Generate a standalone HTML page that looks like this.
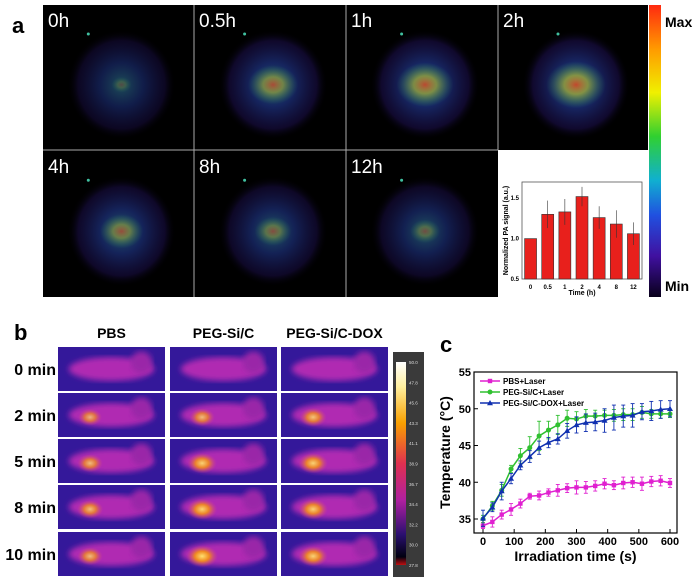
<!DOCTYPE html>
<html><head><meta charset="utf-8"><style>
html,body{margin:0;padding:0;background:#fff;}
svg{display:block;font-family:"Liberation Sans",Arial,sans-serif;}
</style></head><body>
<svg id="fig" width="694" height="581" viewBox="0 0 694 581" xmlns="http://www.w3.org/2000/svg">
<defs>
<radialGradient id="pa" cx="50%" cy="50%" r="50%">
<stop offset="0" stop-color="#3a9ab0" stop-opacity="0.75"/>
<stop offset="0.4" stop-color="#2a48b8" stop-opacity="0.6"/>
<stop offset="0.8" stop-color="#281670" stop-opacity="0.45"/>
<stop offset="1" stop-color="#000" stop-opacity="0"/>
</radialGradient>
<radialGradient id="hot" cx="50%" cy="50%" r="50%">
<stop offset="0" stop-color="#ff3a10" stop-opacity="0.8"/>
<stop offset="0.4" stop-color="#d8d020" stop-opacity="0.6"/>
<stop offset="1" stop-color="#30c060" stop-opacity="0"/>
</radialGradient>
<radialGradient id="spot" cx="50%" cy="50%" r="50%">
<stop offset="0" stop-color="#ffe070"/>
<stop offset="0.45" stop-color="#f08a20"/>
<stop offset="1" stop-color="#d04090" stop-opacity="0"/>
</radialGradient>
<linearGradient id="cbar" x1="0" y1="0" x2="0" y2="1">
<stop offset="0" stop-color="#ff2a10"/><stop offset="0.15" stop-color="#ff9a00"/>
<stop offset="0.3" stop-color="#f0f000"/><stop offset="0.45" stop-color="#30d030"/>
<stop offset="0.6" stop-color="#10b0d0"/><stop offset="0.72" stop-color="#2050e0"/>
<stop offset="0.86" stop-color="#4010a0"/><stop offset="1" stop-color="#08001a"/>
</linearGradient>
<linearGradient id="tbar" x1="0" y1="0" x2="0" y2="1">
<stop offset="0" stop-color="#ffffff"/><stop offset="0.12" stop-color="#fff0a0"/>
<stop offset="0.3" stop-color="#f8a000"/><stop offset="0.5" stop-color="#e03050"/>
<stop offset="0.68" stop-color="#b020a0"/><stop offset="0.85" stop-color="#2a1070"/>
<stop offset="0.96" stop-color="#000010"/><stop offset="1" stop-color="#c01010"/>
</linearGradient>
<filter id="blur"><feGaussianBlur stdDeviation="3"/></filter>
</defs>

<text x="12" y="33" font-size="22" font-weight="bold">a</text>
<rect x="43" y="5" width="605" height="292" fill="#000"/>
<g id="paTiles"></g>
<rect x="498" y="150" width="150" height="147" fill="#fff"/>
<g id="bars"></g>
<rect x="649" y="5" width="12" height="292" fill="url(#cbar)"/>
<text x="665" y="27" font-size="14" font-weight="bold">Max</text>
<text x="665" y="291" font-size="14" font-weight="bold">Min</text>

<text x="14" y="340" font-size="22" font-weight="bold">b</text>
<g id="thermal"></g>
<rect x="393" y="352" width="31" height="225" fill="#3a3a3a"/>
<rect x="396" y="362" width="10" height="203" fill="url(#tbar)"/>
<g id="tlabels" font-size="4.5" fill="#ddd"></g>

<text x="440" y="352" font-size="22" font-weight="bold">c</text>
<g id="linechart"></g>
</svg>
<script>
const barCats = ["0","0.5","1","2","4","8","12"];
const barVals = [1.0,1.30,1.33,1.52,1.26,1.18,1.06];
const barErr = [0.0,0.17,0.16,0.12,0.14,0.17,0.14];
const barTicks = [0.5,1.0,1.5];
const timeS = [0,30,60,90,120,150,180,210,240,270,300,330,360,390,420,450,480,510,540,570,600];
const pbsT = [34.1,34.6,35.6,36.3,37.1,38.1,38.2,38.6,38.9,39.2,39.3,39.3,39.5,39.8,39.6,39.9,40.0,39.8,40.1,40.2,39.9];
const sicT = [35.0,36.8,38.9,41.8,43.6,44.7,46.3,47.1,47.8,48.7,48.6,49.0,49.0,49.1,49.1,49.2,49.2,49.5,49.3,49.3,49.3];
const doxT = [35.1,36.6,38.8,40.5,42.3,43.5,44.7,45.4,45.9,47.0,47.8,48.1,48.2,48.4,48.8,49.0,49.1,49.6,49.7,49.9,50.0];
const pbsE = [0.4,0.7,0.6,0.8,0.6,0.4,0.6,0.5,0.8,0.6,0.9,0.8,0.7,0.7,0.6,0.8,0.7,0.9,0.7,0.7,0.6];
const sicE = [0.5,0.6,0.8,0.5,1.0,1.5,2.0,1.2,1.3,1.1,1.0,0.9,0.8,0.7,0.8,0.8,0.8,0.8,0.6,0.6,0.5];
const doxE = [1.1,0.6,1.2,0.7,0.6,0.8,0.9,0.7,0.7,1.0,1.1,1.2,1.2,1.6,1.7,1.5,1.6,1.1,1.3,1.2,1.1];
const xTicks = [0,100,200,300,400,500,600];
const yTicks = [35,40,45,50,55];
const paLabels = ["0h","0.5h","1h","2h","4h","8h","12h"];
const paIntensity = [0.3,0.75,0.85,0.9,0.65,0.55,0.45];
const rowLabels = ["0 min","2 min","5 min","8 min","10 min"];
const colLabels = ["PBS","PEG-Si/C","PEG-Si/C-DOX"];
const spotLevel = [[0,0,0],[0.5,0.6,0.7],[0.6,0.85,0.85],[0.65,0.9,0.85],[0.6,1.0,0.85]];
const tempTicks = ["50.0","47.8","45.6","43.3","41.1","38.9","36.7","34.4","32.2","30.0","27.8"];

const NS="http://www.w3.org/2000/svg";
function mk(tag,attrs,parent){const e=document.createElementNS(NS,tag);for(const k in attrs)e.setAttribute(k,attrs[k]);parent.appendChild(e);return e;}

const pa=document.getElementById('paTiles');
const colX=[43,194,346,498], colW=[151,152,152,150], rowY=[5,151], rowH=[145,146];
paLabels.forEach((lab,i)=>{
  const r=Math.floor(i/4), c=i%4;
  const x=colX[c], y=rowY[r], w=colW[c], h=rowH[r];
  const g=mk('g',{},pa);
  
  
  mk('ellipse',{cx:x+w*0.52,cy:y+h*0.55,rx:w*0.36,ry:h*0.38,fill:'url(#pa)',opacity:0.55+0.4*paIntensity[i]},g);
  mk('ellipse',{cx:x+w*0.52,cy:y+h*0.55,rx:w*0.22*paIntensity[i],ry:h*0.18*paIntensity[i],fill:'url(#hot)',opacity:paIntensity[i]},g);
  mk('circle',{cx:x+w*0.3+(c*5),cy:y+h*0.2,r:1.5,fill:'#40c0a0'},g);
  const t=mk('text',{x:x+5,y:y+22,'font-size':19,fill:'#fff'},g);
  t.textContent=lab;
  
  
});
[[194,5,194,297],[346,5,346,297],[498,5,498,150],[43,150,498,150]].forEach(l=>{
  const e=mk('line',{x1:l[0],y1:l[1],x2:l[2],y2:l[3],stroke:'#aaa','stroke-width':1},pa);
  
  
});

const bg=document.getElementById('bars');
const bx0=522,bx1=642,by0=279,by1=182;
const bY=v=>by0-(v-0.5)/(1.7-0.5)*(by0-by1);
const bw=(bx1-bx0)/barCats.length;
const bframe=mk('rect',{x:bx0,y:by1,width:bx1-bx0,height:by0-by1,fill:'none',stroke:'#555','stroke-width':0.8},bg);


barCats.forEach((c,i)=>{
  const cx=bx0+bw*(i+0.5);
  const r=mk('rect',{x:cx-6,y:bY(barVals[i]),width:12,height:by0-bY(barVals[i]),fill:'#e8201c',stroke:'#333','stroke-width':0.6},bg);
  
  
  const e=mk('line',{x1:cx,x2:cx,y1:bY(barVals[i]+barErr[i]),y2:bY(barVals[i]-barErr[i]),stroke:'#333','stroke-width':0.6},bg);
  
  
  const t=mk('text',{x:cx,y:by0+10,'font-size':6,'font-weight':'bold','text-anchor':'middle'},bg);
  t.textContent=c;
  
  
});
barTicks.forEach(v=>{
  const t=mk('text',{x:bx0-3,y:bY(v)+2,'font-size':6,'font-weight':'bold','text-anchor':'end'},bg);
  t.textContent=v.toFixed(1);
  
  
});
let t=mk('text',{x:(bx0+bx1)/2,y:295,'font-size':7,'font-weight':'bold','text-anchor':'middle'},bg);
t.textContent='Time (h)';


t=mk('text',{x:0,y:0,'font-size':7,'font-weight':'bold','text-anchor':'middle',transform:'translate(508,'+((by0+by1)/2)+') rotate(-90)'},bg);
t.textContent='Normalized PA signal (a.u.)';



const th=document.getElementById('thermal');
const tX=[58,170,281], tW=107, tY=[347,393,439,485,532], tH=44;
colLabels.forEach((c,j)=>{
  const e=mk('text',{x:tX[j]+tW/2,y:338,'font-size':14,'font-weight':'bold','text-anchor':'middle'},th);
  e.textContent=c;
  
  
});
rowLabels.forEach((lab,i)=>{
  const e=mk('text',{x:56,y:tY[i]+tH/2+6,'font-size':16,'font-weight':'bold','text-anchor':'end'},th);
  e.textContent=lab;
  
  
  colLabels.forEach((c,j)=>{
    const g=mk('g',{},th);
    
    
    const x=tX[j],y=tY[i];
    mk('rect',{x:x,y:y,width:tW,height:tH,fill:'#34189a'},g);
    mk('ellipse',{cx:x+tW*0.5,cy:y+tH*0.5,rx:tW*0.4,ry:tH*0.27,fill:'#b02ab2',filter:'url(#blur)'},g);
    mk('ellipse',{cx:x+tW*0.78,cy:y+tH*0.35,rx:tW*0.1,ry:tH*0.25,fill:'#9a28a8',filter:'url(#blur)'},g);
    const s=spotLevel[i][j];
    if(s>0) mk('ellipse',{cx:x+tW*0.3,cy:y+tH*0.55,rx:8+8*s,ry:6+5*s,fill:'url(#spot)',opacity:0.5+0.5*s},g);
  });
});
const tl=document.getElementById('tlabels');
tempTicks.forEach((v,i)=>{
  const e=mk('text',{x:409,y:362+i*20.3+2},tl);
  e.textContent=v;
  
  
});

const lc=document.getElementById('linechart');
const X0=474,X1=677,Y0=533,Y1=372;
const xs=v=>483+v/600*(670-483);
const ys=v=>519-(v-35)/20*(519-372);
const fr=mk('rect',{x:X0,y:Y1,width:X1-X0,height:Y0-Y1,fill:'none',stroke:'#000','stroke-width':1.2},lc);


xTicks.forEach(v=>{
  mk('line',{x1:xs(v),x2:xs(v),y1:Y0,y2:Y0-4,stroke:'#000'},lc);
  const e=mk('text',{x:xs(v),y:Y0+12,'font-size':11,'font-weight':'bold','text-anchor':'middle'},lc);
  e.textContent=v;
  
  
});
yTicks.forEach(v=>{
  mk('line',{x1:X0,x2:X0+4,y1:ys(v),y2:ys(v),stroke:'#000'},lc);
  const e=mk('text',{x:X0-3,y:ys(v)+4,'font-size':11,'font-weight':'bold','text-anchor':'end'},lc);
  e.textContent=v;
  
  
});
t=mk('text',{x:(X0+X1)/2,y:561,'font-size':14,'font-weight':'bold','text-anchor':'middle'},lc);
t.textContent='Irradiation time (s)';


t=mk('text',{x:0,y:0,'font-size':14,'font-weight':'bold','text-anchor':'middle',transform:'translate(450,'+((Y0+Y1)/2)+') rotate(-90)'},lc);
t.textContent='Temperature (°C)';


const series=[[pbsT,pbsE,'#e020d0','sq','PBS+Laser'],[sicT,sicE,'#30c030','ci','PEG-Si/C+Laser'],[doxT,doxE,'#1030b0','tr','PEG-Si/C-DOX+Laser']];
function marker(type,x,y,col,g){
  if(type==='sq') mk('rect',{x:x-2.2,y:y-2.2,width:4.4,height:4.4,fill:col},g);
  else if(type==='ci') mk('circle',{cx:x,cy:y,r:2.5,fill:col},g);
  else mk('polygon',{points:(x)+','+(y-3)+' '+(x-3)+','+(y+2.2)+' '+(x+3)+','+(y+2.2),fill:col},g);
}
series.forEach((s,k)=>{
  const g=mk('g',{},lc);
  
  
  const pts=timeS.map((tt,i)=>xs(tt)+','+ys(s[0][i])).join(' ');
  mk('polyline',{points:pts,fill:'none',stroke:s[2],'stroke-width':1.5},g);
  timeS.forEach((tt,i)=>{
    const x=xs(tt),y=ys(s[0][i]),e1=ys(s[0][i]+s[1][i]),e2=ys(s[0][i]-s[1][i]);
    mk('line',{x1:x,x2:x,y1:e1,y2:e2,stroke:s[2],'stroke-width':0.9},g);
    mk('line',{x1:x-2,x2:x+2,y1:e1,y2:e1,stroke:s[2],'stroke-width':0.9},g);
    mk('line',{x1:x-2,x2:x+2,y1:e2,y2:e2,stroke:s[2],'stroke-width':0.9},g);
    marker(s[3],x,y,s[2],g);
  });
  const ly=381+k*11;
  const lg=mk('g',{},lc);
  
  
  mk('line',{x1:480,x2:500,y1:ly,y2:ly,stroke:s[2],'stroke-width':1.5},lg);
  marker(s[3],490,ly,s[2],lg);
  const lt=mk('text',{x:503,y:ly+3,'font-size':8,'font-weight':'bold'},lg);
  lt.textContent=s[4];
});
</script>
</body></html>
